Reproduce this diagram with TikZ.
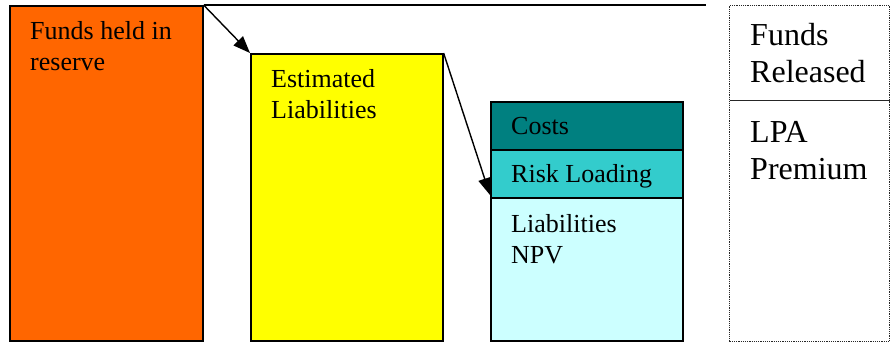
\documentclass[tikz,border=0pt]{standalone}
\usepackage{fontspec}
\setmainfont{Liberation Serif}
\usepackage{xcolor}
\usetikzlibrary{arrows.meta,positioning}
\definecolor{reserveorange}{HTML}{FF6600}
\definecolor{liabyellow}{HTML}{FFFF00}
\definecolor{coststeal}{HTML}{008080}
\definecolor{riskcyan}{HTML}{33CCCC}
\definecolor{npvcyan}{HTML}{CCFFFF}
\tikzstyle{block} = [draw, line width=1.6pt, rectangle, inner sep=0, anchor=north west, minimum width=192pt]
\tikzstyle{release} = [draw=black!85, dash pattern=on 1.2pt off 1pt, line width=1.1pt, rectangle, inner sep=0, anchor=north west, minimum width=160pt]
\tikzstyle{txt} = [inner sep=0, anchor=north west, align=left, font=\fontsize{26pt}{31pt}\selectfont]
\tikzstyle{bigtxt} = [txt, font=\fontsize{32pt}{37pt}\selectfont]

\begin{document}
\begin{tikzpicture}[x=1pt, y=-1pt, >={Triangle[length=17pt,width=13pt]}]
	  \useasboundingbox (0,0) rectangle (891,343);
	  % the three columns
	  \node [block, fill=reserveorange, minimum width=193pt, minimum height=335pt] (reserve) at (9,5) {};
	  \node [block, fill=liabyellow, minimum height=287pt] (liab) at (250,53) {};
	  \node [block, fill=coststeal, minimum height=48pt] (costs) at (490,101) {};
	  \node [block, fill=riskcyan, minimum height=48pt] (risk) at (490,149) {};
	  \node [block, fill=npvcyan, minimum height=143pt] (npv) at (490,197) {};
	
	  % dotted box on the right
	  \node [release, minimum height=95pt] (released) at (729,5) {};
	  \node [release, minimum height=241pt] (premium) at (729,100) {};
	  \coordinate (topend) at (706,5);
	
	  \node [txt, below right=16pt and 21pt of reserve.north west] (reservetxt) {Funds held in\\reserve};
	  \node [txt, below right=16pt and 21pt of liab.north west] (liabtxt) {Estimated\\Liabilities};
	  \node [txt, below right=16.4pt and 21pt of costs.north west] (coststxt) {Costs};
	  \node [txt, below right=15.2pt and 21pt of risk.north west] (risktxt) {Risk Loading};
	  \node [txt, below right=17.2pt and 21pt of npv.north west] (npvtxt) {Liabilities\\NPV};
	  \node [bigtxt, below right=18pt and 21pt of released.north west] (releasedtxt) {Funds\\Released};
	  \node [bigtxt, below right=20.8pt and 21pt of premium.north west] (premiumtxt) {LPA\\Premium};
	
	  \draw [line width=1.6pt] (reserve.north east) -- (topend);
	  \draw [->, line width=1.4pt] (reserve.north east) -- (liab.north west);
	  \draw [->, line width=1.4pt] (liab.north east) -- ([yshift=2pt]npv.north west);
	\end{tikzpicture}
\end{document}
